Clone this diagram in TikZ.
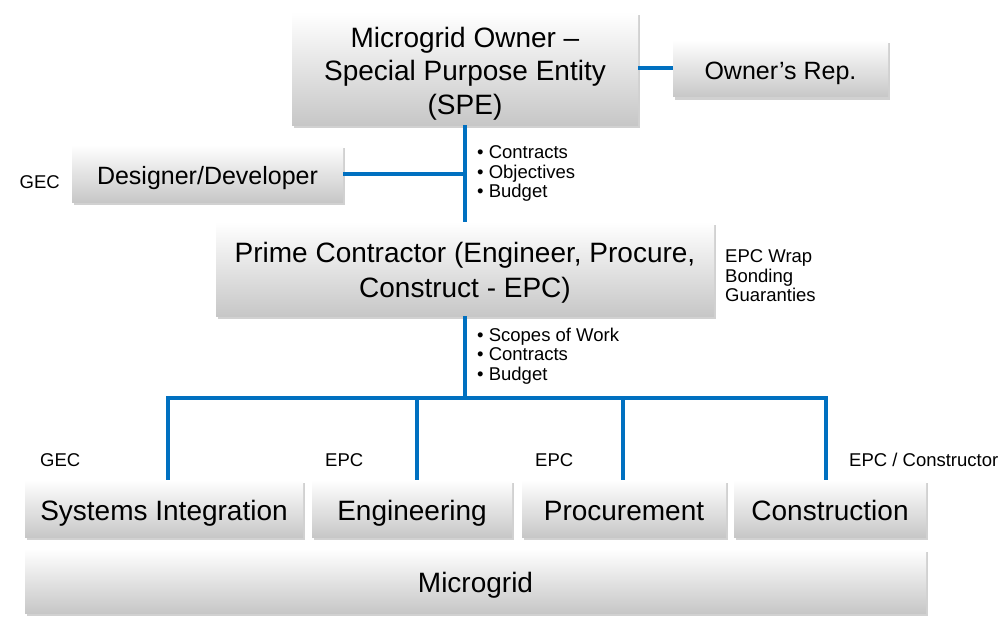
\documentclass[tikz,border=0pt]{standalone}
\usepackage{fontspec}
\setmainfont{Liberation Sans}
\usetikzlibrary{positioning,calc,shadows}
\definecolor{linkblue}{RGB}{0,112,192}

\begin{document}
\begin{tikzpicture}[x=1pt, y=-1pt,
	box/.style = {top color=white, bottom color=black!22, align=center, inner sep=0pt,
		drop shadow={shadow xshift=2pt, shadow yshift=-3pt, opacity=0.3, fill=black!60},
		font=\fontsize{28}{34}\selectfont},
	onebox/.style = {box, text height=27pt, text depth=4pt},
	smallbox/.style = {box, font=\fontsize{25}{30}\selectfont, text height=24pt, text depth=2pt},
	note/.style = {align=left, inner sep=0pt, font=\fontsize{18.5}{19.5}\selectfont},
	link/.style = {draw=linkblue, line width=4pt, line join=miter}]
\def\h{57pt}
\useasboundingbox (0, 0) rectangle (1002, 626);

% owner and the two beside it
\node [box, font=\fontsize{28}{33.5}\selectfont, minimum width=346pt, minimum height=113pt] (spe) at (465, 68.5) {\rule{0pt}{30pt}Microgrid Owner --\\Special Purpose Entity\\(SPE)};
\node [smallbox, minimum width=215pt, minimum height=\h] (rep) at (780.5, 68.5) {Owner's Rep.};
\node [smallbox, minimum width=271pt, minimum height=\h] (dev) at (207.5, 173.5) {Designer/Developer};
\node [note, anchor=base east] (gecdev) at (60, 188) {GEC};

\node [box, font=\fontsize{28}{35}\selectfont, minimum width=498pt, minimum height=94pt] (prime) at (465, 269) {\rule{0pt}{28.4pt}Prime Contractor (Engineer, Procure,\\Construct - EPC)};
\node [note, anchor=north west] (wrap) at (725, 249.5) {EPC Wrap\\Bonding\\Guaranties};

\node [note, anchor=north west] (goals) at (477, 145.5) {\textbullet\ Contracts\\\textbullet\ Objectives\\\textbullet\ Budget};
\node [note, anchor=north west] (scopes) at (477, 327.5) {\textbullet\ Scopes of Work\\\textbullet\ Contracts\\\textbullet\ Budget};

% the four parts
\node [onebox, minimum width=278pt, minimum height=\h] (si) at (164, 508.5) {Systems Integration};
\node [onebox, minimum width=200pt, minimum height=\h] (eng) at (412, 508.5) {Engineering};
\node [onebox, minimum width=204pt, minimum height=\h] (proc) at (624, 508.5) {Procurement};
\node [onebox, minimum width=192pt, minimum height=\h] (cons) at (830, 508.5) {Construction};
\node [onebox, minimum width=901pt, minimum height=64pt] (grid) at (475.5, 581) {Microgrid};

\node [note, anchor=base west] (gecsi) at (40, 466) {GEC};
\node [note, anchor=base west] (epceng) at (325, 466) {EPC};
\node [note, anchor=base west] (epcproc) at (535, 466) {EPC};
\node [note, anchor=base west] (epccons) at (849, 466) {EPC / Constructor};

% links
\coordinate (bus) at (465, 398);
\draw [link] (spe) -- (rep);
\draw [link] (spe.south) -- (prime.north);
\draw [link] (dev.east) -- (dev.east -| prime.north);
\draw [link] (prime.south) -- (bus);
\draw [link] ([xshift=4pt]si.north) |- (bus) -| ([xshift=-4pt]cons.north);
\draw [link] ([xshift=5pt]eng.north) -- ([xshift=5pt]eng.north |- bus);
\draw [link] ([xshift=-1pt]proc.north) -- ([xshift=-1pt]proc.north |- bus);

\end{tikzpicture}
\end{document}
